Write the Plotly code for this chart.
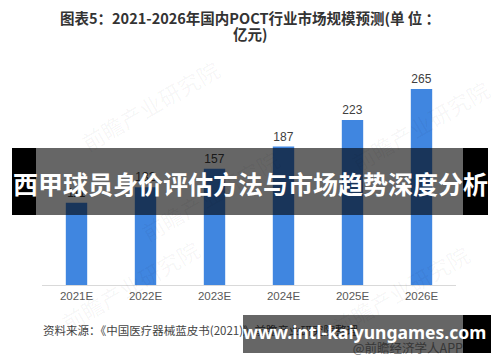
import plotly.graph_objects as go

categories = ["2021E", "2022E", "2023E", "2024E", "2025E", "2026E"]
values = [111, 132, 157, 187, 223, 265]

title_line1 = "图表5：2021-2026年国内POCT行业市场规模预测(单 位 ："
title_line2 = "亿元)"
source_text = "资料来源：《中国医疗器械蓝皮书(2021)》前瞻产业研究院整理"
credit_text = "@前瞻经济学人APP"

# the page body has an 8px margin, so the figure is drawn 8px in from the window corner
OFF = 8
W, H = 500 - OFF, 362 - OFF
# bar plot area in window pixels
X0, X1, Y0, Y1 = 42, 456, 63, 285

def px(x):  # window pixel -> paper fraction
    return (x - OFF) / W

def py(y):
    return 1 - (y - OFF) / H

CJK = "Noto Sans CJK SC"

fig = go.Figure()
fig.add_trace(go.Bar(
    x=categories, y=values,
    marker=dict(color="#4086E0", line=dict(width=0)),
    text=[str(v) for v in values], textposition="outside",
    textfont=dict(family="Liberation Sans, Arial", size=12, color="#404040"),
    cliponaxis=False, hoverinfo="skip",
))

# texts that sit beneath the translucent overlays (full-figure pixel-mapped axes)
fig.add_trace(go.Scatter(
    x=[43, 463], y=[332, 350], mode="text",
    text=[source_text, credit_text],
    textposition=["middle right", "middle left"],
    textfont=dict(family=CJK, size=[11.5, 12.5], color=["#444444", "#8a8a8a"]),
    xaxis="x2", yaxis="y2", cliponaxis=False, hoverinfo="skip",
))

shapes = []
def rect(x0, x1, y0, y1, color):
    shapes.append(dict(type="rect", xref="paper", yref="paper", x0=px(x0), x1=px(x1),
                       y0=py(y1), y1=py(y0), fillcolor=color, line=dict(width=0), layer="above"))

rect(12, 36, 148, 215, "black")
rect(463, 488, 148, 215, "black")
rect(36, 463, 148, 215, "rgba(0,0,0,0.6)")
rect(243, 463, 315, 353, "rgba(0,0,0,0.6)")
rect(463, 491, 315, 353, "black")

ann = []
for (x, y) in [(150, 105), (420, 125), (130, 285), (400, 290), (210, 195)]:
    ann.append(dict(text="前瞻产业研究院", xref="paper", yref="paper", x=px(x), y=py(y),
                    xanchor="center", yanchor="middle",
                    showarrow=False, textangle=-30, font=dict(family=CJK, size=22, color="rgba(0,0,0,0.045)")))
for txt, yy in [(title_line1, 18), (title_line2, 34)]:
    ann.append(dict(text="<b>" + txt + "</b>", xref="paper", yref="paper", x=px(250), y=py(yy),
                    xanchor="center", yanchor="middle", showarrow=False,
                    font=dict(family=CJK, size=14.5, color="#333333")))
ann.append(dict(text="<b>西甲球员身价评估方法与市场趋势深度分析</b>", xref="paper", yref="paper",
                x=px(250), y=py(183), xanchor="center", yanchor="middle", showarrow=False,
                font=dict(family=CJK, size=25, color="white")))
ann.append(dict(text="<b>www.intl-kaiyungames.com</b>", xref="paper", yref="paper",
                x=px(364), y=py(332), xanchor="center", yanchor="middle", showarrow=False,
                font=dict(family="Noto Sans", size=17.5, color="white")))

fig.update_layout(
    width=W, height=H, margin=dict(l=0, r=0, t=0, b=0, autoexpand=False),
    paper_bgcolor="white", plot_bgcolor="rgba(0,0,0,0)",
    showlegend=False, bargap=0.69,
    xaxis=dict(domain=[px(X0), px(X1)], anchor="y", showline=True, linecolor="#d9d9d9", linewidth=1,
               ticks="", tickfont=dict(family="Liberation Sans, Arial", size=11.5, color="#595959"),
               fixedrange=True),
    yaxis=dict(domain=[py(Y1), py(Y0)], anchor="x", range=[0, 300], visible=False, showgrid=False,
               fixedrange=True),
    xaxis2=dict(domain=[0, 1], anchor="y2", range=[OFF, OFF + W], visible=False, fixedrange=True),
    yaxis2=dict(domain=[0, 1], anchor="x2", range=[OFF + H, OFF], visible=False, fixedrange=True),
    shapes=shapes, annotations=ann,
)

fig.write_html("out.html")
